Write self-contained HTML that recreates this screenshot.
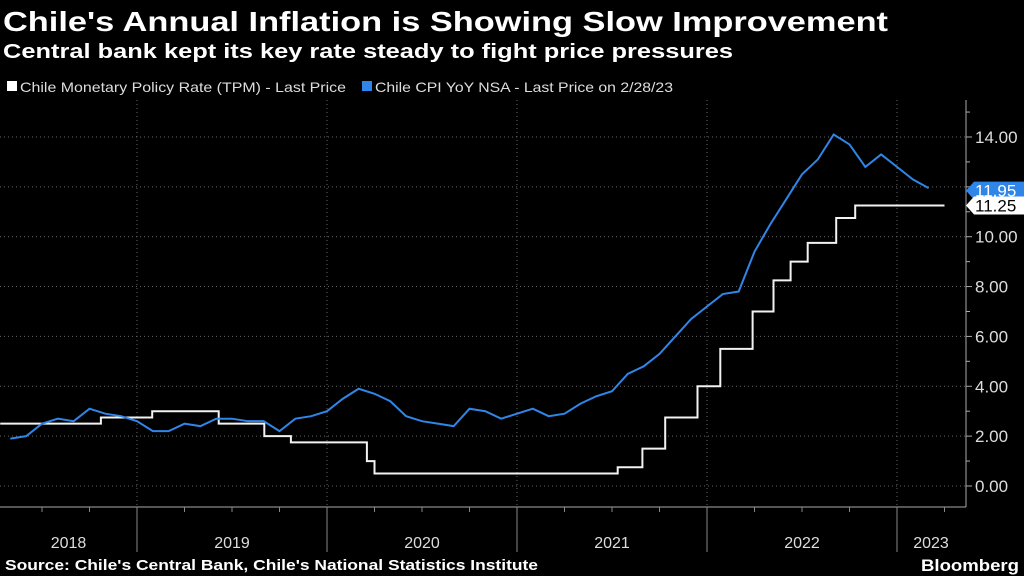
<!DOCTYPE html>
<html><head><meta charset="utf-8"><style>
html,body{margin:0;padding:0;background:#000;}
svg{display:block;font-family:"Liberation Sans",sans-serif;}
</style></head><body>
<svg id="chart" width="1024" height="576" viewBox="0 0 1024 576">
<rect width="1024" height="576" fill="#000"/>
<text x="3" y="31" fill="#fff" font-weight="bold" font-size="28" textLength="885" lengthAdjust="spacingAndGlyphs">Chile's Annual Inflation is Showing Slow Improvement</text>
<text x="3" y="58" fill="#fff" font-weight="bold" font-size="20" textLength="730" lengthAdjust="spacingAndGlyphs">Central bank kept its key rate steady to fight price pressures</text>
<g>
<rect x="7" y="81" width="10" height="10" fill="#fff"/>
<text x="20" y="92" fill="#ddd" font-size="14" textLength="326" lengthAdjust="spacingAndGlyphs">Chile Monetary Policy Rate (TPM) - Last Price</text>
<rect x="362" y="81" width="10" height="10" fill="#2f86e8"/>
<text x="375" y="92" fill="#ddd" font-size="14" textLength="298" lengthAdjust="spacingAndGlyphs">Chile CPI YoY NSA - Last Price on 2/28/23</text>
</g>
<g id="grid"></g>
<g id="axes"></g>
<g id="series"></g>
<g id="labels"></g>
<text x="5" y="570" fill="#fff" font-weight="bold" font-size="15" textLength="533" lengthAdjust="spacingAndGlyphs">Source: Chile's Central Bank, Chile's National Statistics Institute</text>
<text x="1019" y="571" fill="#fff" font-weight="bold" font-size="17" text-anchor="end" textLength="98" lengthAdjust="spacingAndGlyphs">Bloomberg</text>
</svg>
<script>
const yTicks=[0,2,4,6,8,10,12,14];
const yTickLabels=["0.00","2.00","4.00","6.00","8.00","10.00","","14.00"];
const years=[2018,2019,2020,2021,2022,2023];
const cpiStart=[2018,4];
const cpiValues=[1.9,2.0,2.5,2.7,2.6,3.1,2.9,2.8,2.6,2.2,2.2,2.5,2.4,2.7,2.7,2.6,2.6,2.2,2.7,2.8,3.0,3.5,3.9,3.7,3.4,2.8,2.6,2.5,2.4,3.1,3.0,2.7,2.9,3.1,2.8,2.9,3.3,3.6,3.8,4.5,4.8,5.3,6.0,6.7,7.2,7.7,7.8,9.4,10.5,11.5,12.5,13.1,14.1,13.7,12.8,13.3,12.8,12.3,11.95];
const tpmDates=[2018.28,2018.81,2019.08,2019.43,2019.67,2019.81,2020.21,2020.25,2021.53,2021.66,2021.78,2021.95,2022.07,2022.24,2022.35,2022.44,2022.53,2022.68,2022.78];
const tpmValues=[2.5,2.75,3.0,2.5,2.0,1.75,1.0,0.5,0.75,1.5,2.75,4.0,5.5,7.0,8.25,9.0,9.75,10.75,11.25];
const tpmEnd=2023.25;
const cpiLast="11.95", tpmLast="11.25";

const NS="http://www.w3.org/2000/svg";
const X=t=>-53+(t-2018)*190;
const Y=v=>486-v*24.93;
function mk(tag,attrs,parent){const e=document.createElementNS(NS,tag);for(const k in attrs)e.setAttribute(k,attrs[k]);document.getElementById(parent).appendChild(e);return e;}

yTicks.forEach((v,i)=>{
  const g=mk('line',{x1:0,x2:966,y1:Y(v),y2:Y(v),stroke:'#666','stroke-width':1,'stroke-dasharray':'1 3'},'grid');
  
  
  const tk=mk('line',{x1:966,x2:972,y1:Y(v),y2:Y(v),stroke:'#aaa'},'axes');
  
  
  if(yTickLabels[i]){const t=mk('text',{x:975,y:Y(v)+6,fill:'#ddd','font-size':17},'axes');t.textContent=yTickLabels[i];
  
  }
});
for(let v=1;v<=15;v+=2){const tk=mk('line',{x1:966,x2:970,y1:Y(v),y2:Y(v),stroke:'#aaa'},'axes');
  
  }
const ax=mk('line',{x1:966,x2:966,y1:100,y2:507,stroke:'#aaa'},'axes');


const bx=mk('line',{x1:0,x2:966,y1:507,y2:507,stroke:'#aaa'},'axes');


years.forEach(yr=>{
  if(yr>2018){
    const g=mk('line',{x1:X(yr),x2:X(yr),y1:100,y2:507,stroke:'#666','stroke-dasharray':'1 3'},'grid');
    
    
    const s=mk('line',{x1:X(yr),x2:X(yr),y1:507,y2:552,stroke:'#888'},'axes');
    
    
  }
  for(let q=1;q<4;q++){const xq=X(yr+q/4);if(xq>0&&xq<966){const t=mk('line',{x1:xq,x2:xq,y1:507,y2:512,stroke:'#888'},'axes');
    
    }}
  const cx=Math.min(Math.max((Math.max(X(yr),0)+Math.min(X(yr+1),966))/2,0),966);
  const lab=mk('text',{x:yr===2023?931:cx,y:548,fill:'#ddd','font-size':16,'text-anchor':'middle'},'axes');
  lab.textContent=yr;
  
  
});

let d='';
tpmDates.forEach((t,i)=>{const x=Math.max(X(t),0);d+=(i?`L${x},${Y(tpmValues[i-1])}L${x},${Y(tpmValues[i])}`:`M${x},${Y(tpmValues[0])}`);});
d+=`L${X(tpmEnd)},${Y(tpmValues[tpmValues.length-1])}`;
const tp=mk('path',{d:d,fill:'none',stroke:'#f2f2f2','stroke-width':2},'series');



const pts=cpiValues.map((v,i)=>{const t=cpiStart[0]+(cpiStart[1]+i)/12;return X(t)+','+Y(v);});
const cp=mk('polyline',{points:pts.join(' '),fill:'none',stroke:'#2f86e8','stroke-width':2},'series');



function tag(val,txt,bg,fg,name){
  const y=Y(val);
  const p=mk('path',{d:`M966,${y}L974,${y-9}L1024,${y-9}L1024,${y+9}L974,${y+9}Z`,fill:bg},'labels');
  
  
  const t=mk('text',{x:975,y:y+6,fill:fg,'font-size':17},'labels');
  t.textContent=txt;
  
  
}
tag(+cpiLast-0.1,cpiLast,'#2f86e8','#fff','cpi-last-label');
tag(+tpmLast,tpmLast,'#fff','#000','tpm-last-label');
</script>
</body></html>
